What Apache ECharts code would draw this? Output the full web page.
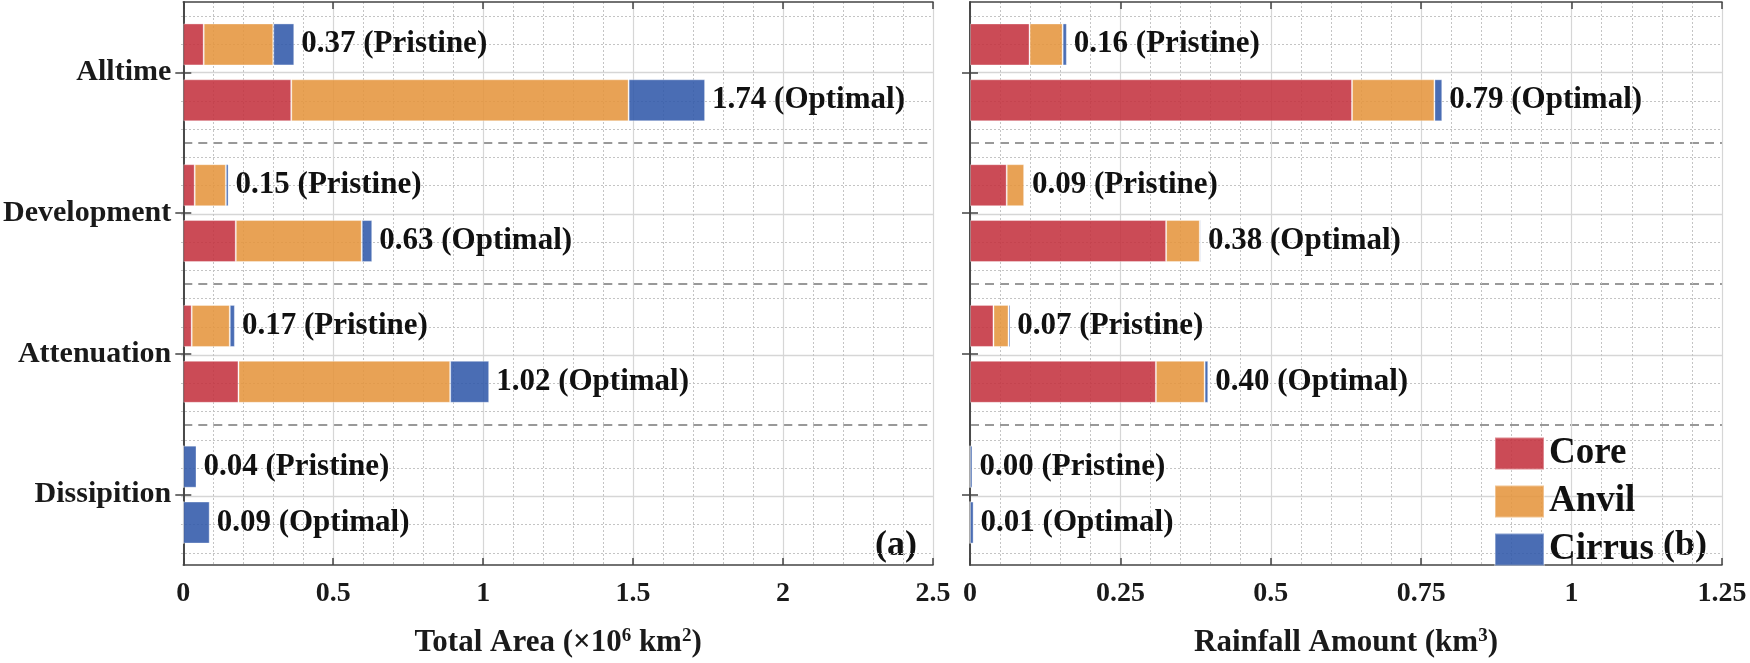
<!DOCTYPE html>
<html>
<head>
<meta charset="utf-8">
<script src="https://cdn.jsdelivr.net/npm/echarts@6/dist/echarts.min.js"></script>
<style>html,body{margin:0;padding:0;background:#fff}#c{width:1750px;height:663px}</style>
</head>
<body>
<div id="c"></div>
<script>
const categories = ['Alltime', 'Development', 'Attenuation', 'Dissipition'];
// Panel (a): Total Area (x10^6 km^2)
const areaCorePristine   = [0.068, 0.038, 0.028, 0];
const areaAnvilPristine  = [0.232, 0.104, 0.127, 0];
const areaCirrusPristine = [0.070, 0.009, 0.017, 0.044];
const areaCoreOptimal    = [0.360, 0.175, 0.184, 0];
const areaAnvilOptimal   = [1.125, 0.420, 0.706, 0];
const areaCirrusOptimal  = [0.255, 0.035, 0.130, 0.088];
const areaTotalPristine  = ['0.37', '0.15', '0.17', '0.04'];
const areaTotalOptimal   = ['1.74', '0.63', '1.02', '0.09'];
// Panel (b): Rainfall Amount (km^3)
const rainCorePristine   = [0.099, 0.061, 0.039, 0];
const rainAnvilPristine  = [0.055, 0.029, 0.025, 0];
const rainCirrusPristine = [0.007, 0.001, 0.003, 0.004];
const rainCoreOptimal    = [0.635, 0.326, 0.309, 0];
const rainAnvilOptimal   = [0.137, 0.056, 0.081, 0];
const rainCirrusOptimal  = [0.013, 0.002, 0.006, 0.006];
const rainTotalPristine  = ['0.16', '0.09', '0.07', '0.00'];
const rainTotalOptimal   = ['0.79', '0.38', '0.40', '0.01'];

const xTicksArea = { min: 0, max: 2.5, interval: 0.5 };
const xTicksRain = { min: 0, max: 1.25, interval: 0.25 };

const FONT = '"Liberation Serif", "Times New Roman", serif';
const colors = { Core: 'rgba(196,50,63,0.88)', Anvil: 'rgba(229,149,61,0.88)', Cirrus: 'rgba(49,89,170,0.88)' };

const PW = 752, PH = 565, TOP = 2;
const lefts = [181, 970];
const band = PH / categories.length;

const grids = [], xAxes = [], yAxes = [];
lefts.forEach((L) => {
  grids.push({ left: L, top: TOP, width: PW, height: PH });                          // main grid
  grids.push({ left: L, top: TOP + band / 10, width: PW, height: PH - band / 5 });    // minor horizontal grid
  grids.push({ left: L, top: TOP + band / 2, width: PW, height: PH - band });         // major horizontal grid
});

const axisLineStyle = { color: '#444', width: 1.6 };
const tickLine = { color: '#444', width: 1.5 };
const tickFont = { fontFamily: FONT, fontWeight: 'bold', fontSize: 28, color: '#1a1a1a' };
const nameStyle = {
  fontFamily: FONT, fontWeight: 'bold', fontSize: 31, color: '#1a1a1a',
  rich: { sup: { fontFamily: FONT, fontWeight: 'bold', fontSize: 19, color: '#1a1a1a', verticalAlign: 'top', padding: [0, 0, 12, 0] } }
};

[xTicksArea, xTicksRain].forEach((t, p) => {
  const g = p * 3;
  xAxes.push({
    gridIndex: g, type: 'value', position: 'bottom', min: t.min, max: t.max, interval: t.interval,
    axisLine: { show: true, lineStyle: axisLineStyle },
    axisTick: { show: true, inside: true, length: 7, lineStyle: tickLine },
    axisLabel: Object.assign({ margin: 15 }, tickFont),
    splitLine: { show: true, lineStyle: { color: '#d6d6d6', width: 1.2 } },
    minorTick: { show: false, splitNumber: 5 },
    minorSplitLine: { show: true, lineStyle: { color: '#c4c4c4', width: 1, type: [2, 2] } },
    name: p === 0 ? 'Total Area (\u00d710{sup|6} km{sup|2})' : 'Rainfall Amount (km{sup|3})',
    nameLocation: 'middle', nameGap: 62, nameTextStyle: nameStyle
  });
  xAxes.push({
    gridIndex: g, type: 'value', position: 'top', min: t.min, max: t.max, interval: t.interval,
    axisLine: { show: true, lineStyle: axisLineStyle },
    axisTick: { show: true, inside: true, length: 7, lineStyle: tickLine },
    axisLabel: { show: false }, splitLine: { show: false }
  });
  xAxes.push({ gridIndex: g + 1, type: 'value', show: false, min: 0, max: 1 });
  xAxes.push({ gridIndex: g + 2, type: 'value', show: false, min: 0, max: 1 });

  yAxes.push({
    gridIndex: g, type: 'category', data: categories, inverse: true, position: 'left',
    axisLine: { show: true, lineStyle: axisLineStyle },
    axisTick: { show: true, inside: true, length: 8, alignWithLabel: true, lineStyle: tickLine },
    axisLabel: Object.assign({ show: p === 0, margin: 12 }, tickFont, { fontSize: 30 }),
    splitLine: { show: true, showMinLine: false, showMaxLine: false, interval: 0, lineStyle: { color: '#999', width: 2.2, type: [9, 6] } }
  });
  yAxes.push({
    gridIndex: g, type: 'category', data: categories, inverse: true, position: 'right',
    axisLine: { show: true, lineStyle: axisLineStyle },
    axisTick: { show: true, inside: true, length: 8, alignWithLabel: true, lineStyle: tickLine },
    axisLabel: { show: false }, splitLine: { show: false }
  });
  yAxes.push({
    gridIndex: g + 1, type: 'value', min: 0, max: categories.length * 5 - 1, interval: 1,
    axisLine: { show: false }, axisTick: { show: false }, axisLabel: { show: false },
    splitLine: { show: true, lineStyle: { color: '#c4c4c4', width: 1, type: [2, 2] } }
  });
  yAxes.push({
    gridIndex: g + 2, type: 'value', min: 0, max: categories.length - 1, interval: 1,
    axisLine: { show: false }, axisTick: { show: false }, axisLabel: { show: false },
    splitLine: { show: true, lineStyle: { color: '#d6d6d6', width: 1.4 } }
  });
});

const labelStyle = { fontFamily: FONT, fontWeight: 'bold', fontSize: 31, color: '#111' };

function panelSeries(p, core, anvil, cirrus, totals, tag) {
  const xi = p * 4, yi = p * 4;
  const stack = 'p' + p + tag;
  const base = { type: 'bar', xAxisIndex: xi, yAxisIndex: yi, stack: stack, barWidth: 42, barGap: '33%' };
  const mk = (name, data, extra) => Object.assign({}, base, { name: name, data: data,
    itemStyle: { color: colors[name], borderColor: 'rgba(255,255,255,0.35)', borderWidth: 1 } }, extra || {});
  return [
    mk('Core', core),
    mk('Anvil', anvil),
    mk('Cirrus', cirrus, {
      label: Object.assign({ show: true, position: 'right', distance: 7,
        formatter: (d) => totals[d.dataIndex] + ' (' + tag + ')' }, labelStyle)
    })
  ];
}

const series = [].concat(
  panelSeries(0, areaCorePristine, areaAnvilPristine, areaCirrusPristine, areaTotalPristine, 'Pristine'),
  panelSeries(0, areaCoreOptimal, areaAnvilOptimal, areaCirrusOptimal, areaTotalOptimal, 'Optimal'),
  panelSeries(1, rainCorePristine, rainAnvilPristine, rainCirrusPristine, rainTotalPristine, 'Pristine'),
  panelSeries(1, rainCoreOptimal, rainAnvilOptimal, rainCirrusOptimal, rainTotalOptimal, 'Optimal')
);

const chart = echarts.init(document.getElementById('c'), null, { renderer: 'canvas' });
chart.setOption({
  animation: false,
  backgroundColor: '#fff',
  color: [colors.Core, colors.Anvil, colors.Cirrus],
  grid: grids,
  xAxis: xAxes,
  yAxis: yAxes,
  legend: {
    data: ['Core', 'Anvil', 'Cirrus'], orient: 'vertical', left: 1489, top: 430,
    icon: 'rect', itemWidth: 49, itemHeight: 32, itemGap: 11,
    textStyle: { fontFamily: FONT, fontWeight: 'bold', fontSize: 37, color: '#111', lineHeight: 32 }
  },
  graphic: [
    { type: 'text', x: 917, y: 564, style: { text: '(a)', align: 'right', verticalAlign: 'bottom', font: 'bold 36px "Liberation Serif"', fill: '#111' } },
    { type: 'text', x: 1707, y: 564, style: { text: '(b)', align: 'right', verticalAlign: 'bottom', font: 'bold 36px "Liberation Serif"', fill: '#111' } }
  ],
  series: series
});
</script>
</body>
</html>
